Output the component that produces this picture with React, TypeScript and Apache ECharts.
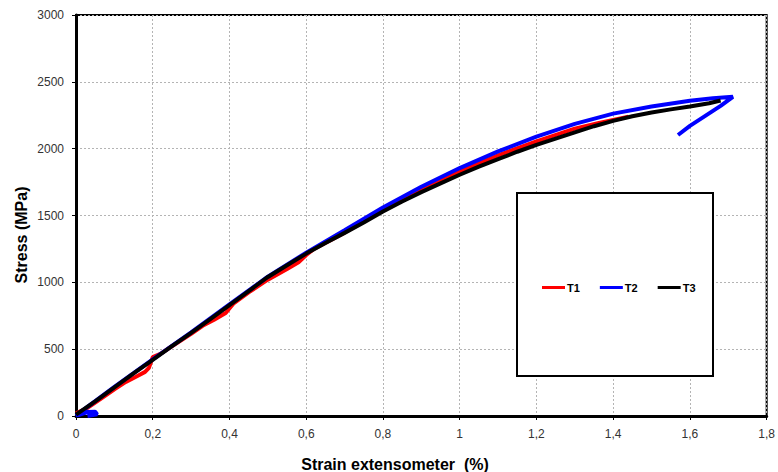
import React, { useEffect, useRef } from "react";
import * as echarts from "echarts";

const xTicks = { min: 0, max: 1.8, interval: 0.2 };
const yTicks = { min: 0, max: 3000, interval: 500 };

const seriesNames = ["T1", "T2", "T3"];
const seriesColors = ["#ff0000", "#0000ff", "#000000"];

const t1Strain = [0, 0.03, 0.07, 0.1, 0.13, 0.16, 0.18, 0.19, 0.2, 0.22, 0.25, 0.3, 0.33, 0.36, 0.39, 0.41, 0.45, 0.5, 0.55, 0.58, 0.6, 0.62, 0.7, 0.8, 0.9, 1.0, 1.1, 1.2, 1.3, 1.36, 1.44];
const t1Stress = [20, 60, 140, 200, 255, 300, 330, 360, 440, 465, 522, 615, 675, 720, 770, 840, 925, 1020, 1100, 1150, 1205, 1250, 1372, 1540, 1695, 1830, 1950, 2055, 2150, 2190, 2240];

const t2Strain = [0.03, 0.055, 0.05, 0.03, 0.01, 0, 0.05, 0.1, 0.15, 0.2, 0.3, 0.4, 0.5, 0.6, 0.7, 0.8, 0.9, 1.0, 1.1, 1.2, 1.3, 1.4, 1.5, 1.6, 1.66, 1.712, 1.68, 1.64, 1.6, 1.569];
const t2Stress = [0, 12, 32, 30, 10, 5, 112, 218, 320, 424, 625, 835, 1042, 1222, 1390, 1560, 1715, 1855, 1980, 2090, 2185, 2262, 2315, 2358, 2378, 2388, 2320, 2245, 2170, 2102];

const t3Strain = [0, 0.05, 0.1, 0.15, 0.2, 0.25, 0.3, 0.35, 0.4, 0.45, 0.5, 0.55, 0.6, 0.65, 0.7, 0.75, 0.8, 0.85, 0.9, 0.95, 1.0, 1.05, 1.1, 1.15, 1.2, 1.25, 1.3, 1.35, 1.4, 1.45, 1.5, 1.55, 1.6, 1.65, 1.68];
const t3Stress = [10, 110, 215, 318, 420, 522, 622, 725, 830, 935, 1040, 1128, 1215, 1295, 1370, 1448, 1530, 1605, 1675, 1740, 1805, 1865, 1922, 1977, 2028, 2075, 2122, 2168, 2208, 2242, 2270, 2294, 2316, 2340, 2360];

const xTitle = "Strain extensometer  (%)";
const yTitle = "Stress (MPa)";

const zip = (xs: number[], ys: number[]) => xs.map((x, i) => [x, ys[i]]);

export default function App() {
  const ref = useRef<HTMLDivElement>(null);
  useEffect(() => {
    if (!ref.current) return;
    const chart = echarts.init(ref.current, undefined, { renderer: "svg" });
    const data = [zip(t1Strain, t1Stress), zip(t2Strain, t2Stress), zip(t3Strain, t3Stress)];
    const labelFont = { fontFamily: "Liberation Sans, Arial, sans-serif", fontSize: 12, color: "#333" };
    chart.setOption({
      animation: false,
      backgroundColor: "#ffffff",
      grid: { left: 76, right: 9, top: 15, bottom: 56, show: true, borderColor: "#000", borderWidth: 2, backgroundColor: "transparent" },
      xAxis: {
        type: "value",
        min: xTicks.min,
        max: xTicks.max,
        interval: xTicks.interval,
        axisLine: { show: true, onZero: false, lineStyle: { color: "#000", width: 3 } },
        axisTick: { show: true, inside: false, length: 4, lineStyle: { color: "#000", width: 1 } },
        axisLabel: {
          ...labelFont,
          margin: 12,
          formatter: (v: number) => String(Math.round(v * 10) / 10).replace(".", ","),
        },
        splitLine: { show: true, lineStyle: { color: "#b4b4b4", width: 1, type: [2, 2] } },
      },
      yAxis: {
        type: "value",
        min: yTicks.min,
        max: yTicks.max,
        interval: yTicks.interval,
        axisLine: { show: true, onZero: false, lineStyle: { color: "#000", width: 3 } },
        axisTick: { show: true, inside: false, length: 4, lineStyle: { color: "#000", width: 1 } },
        axisLabel: { ...labelFont, margin: 12, formatter: (v: number) => String(Math.round(v)) },
        splitLine: { show: true, lineStyle: { color: "#b4b4b4", width: 1, type: [2, 2] } },
      },
      legend: {
        left: 537,
        top: 277,
        z: 10,
        itemWidth: 23,
        itemHeight: 3,
        itemGap: 20,
        icon: "rect",
        textStyle: { fontFamily: "Liberation Sans, Arial, sans-serif", fontSize: 11, fontWeight: "bold", color: "#000", padding: [0, 0, 0, -3] },
        data: seriesNames,
      },
      graphic: [
        {
          type: "rect",
          z: 3,
          shape: { x: 517, y: 193, width: 196, height: 183 },
          style: { fill: "#ffffff", stroke: "#000", lineWidth: 2 },
        },
        {
          type: "text",
          z: 5,
          x: 395,
          y: 464,
          style: {
            text: xTitle,
            fontFamily: "Liberation Sans, Arial, sans-serif",
            fontSize: 16,
            fontWeight: "bold",
            fill: "#000",
            align: "center",
            verticalAlign: "middle",
          },
        },
        {
          type: "text",
          z: 5,
          x: 21,
          y: 235,
          rotation: Math.PI / 2,
          style: {
            text: yTitle,
            fontFamily: "Liberation Sans, Arial, sans-serif",
            fontSize: 16,
            fontWeight: "bold",
            fill: "#000",
            align: "center",
            verticalAlign: "middle",
          },
        },
      ],
      series: seriesNames.map((name, i) => ({
        name,
        type: "line",
        data: data[i],
        showSymbol: false,
        symbol: "none",
        smooth: false,
        color: seriesColors[i],
        lineStyle: { color: seriesColors[i], width: 4 },
        z: 2 + i,
      })),
    });
    return () => chart.dispose();
  }, []);
  return <div ref={ref} style={{ position: "fixed", left: 0, top: 0, width: 778, height: 472 }} />;
}
